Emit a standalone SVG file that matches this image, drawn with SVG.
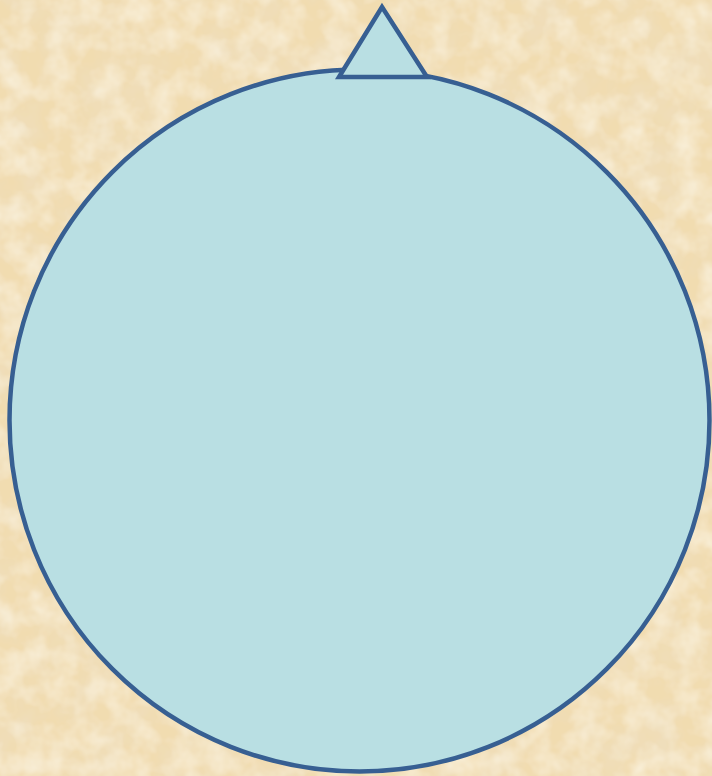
<svg xmlns="http://www.w3.org/2000/svg" width="712" height="776" viewBox="0 0 712 776">
  <defs>
    <filter id="parchment" x="0" y="0" width="100%" height="100%">
      <feTurbulence type="fractalNoise" baseFrequency="0.025" numOctaves="4" seed="7" result="noise"/>
      <feColorMatrix in="noise" type="matrix" values="0 0 0 0 0.86  0 0 0 0 0.74  0 0 0 0 0.53  0 0 0 1.4 -0.55" result="dark"/>
      <feTurbulence type="fractalNoise" baseFrequency="0.04" numOctaves="3" seed="21" result="noise2"/>
      <feColorMatrix in="noise2" type="matrix" values="0 0 0 0 0.98  0 0 0 0 0.93  0 0 0 0 0.80  0 0 0 1.2 -0.45" result="light"/>
      <feMerge>
        <feMergeNode in="SourceGraphic"/>
        <feMergeNode in="dark"/>
        <feMergeNode in="light"/>
      </feMerge>
    </filter>
    <style>
      .shape { fill: #B9DFE3; stroke: #375F92; stroke-width: 4.5; }
    </style>
  </defs>
  <rect x="0" y="0" width="712" height="776" fill="#F1DCB0" filter="url(#parchment)"/>
  <g id="circle-node">
    <ellipse class="shape" cx="359.5" cy="420.5" rx="350" ry="351"/>
  </g>
  <g id="triangle-node">
    <polygon class="shape" points="382,7 427,77 339,77" stroke-linejoin="miter"/>
  </g>
  <g id="connectors"></g>
</svg>
